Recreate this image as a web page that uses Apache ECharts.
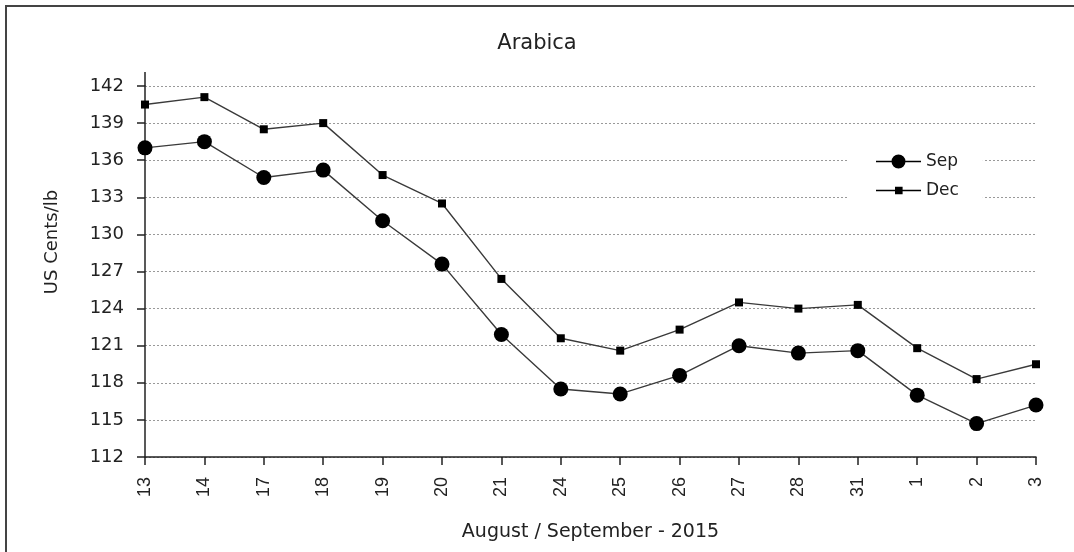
<!DOCTYPE html>
<html>
<head>
<meta charset="utf-8">
<script src="https://cdn.jsdelivr.net/npm/echarts@6/dist/echarts.min.js"></script>
<style>
  html, body { margin: 0; padding: 0; background: #fff; }
  #chart { width: 1074px; height: 552px; }
</style>
</head>
<body>
<div id="chart"></div>
<script>
// trading days, Aug/Sep 2015
const days = ["13", "14", "17", "18", "19", "20", "21", "24", "25", "26", "27", "28", "31", "1", "2", "3"];
const sep = [137.0, 137.5, 134.6, 135.2, 131.1, 127.6, 121.9, 117.5, 117.1, 118.6, 121.0, 120.4, 120.6, 117.0, 114.7, 116.2];
const dec = [140.5, 141.1, 138.5, 139.0, 134.8, 132.5, 126.4, 121.6, 120.6, 122.3, 124.5, 124.0, 124.3, 120.8, 118.3, 119.5];

const font = "DejaVu Sans, Verdana, sans-serif";
const narrow = "Liberation Sans, Arial, sans-serif";

// legend icons: line + marker (default line icon uses same marker size for both)
const iconSep = "path://M0,0 Z M0,6.3 H45 V7.7 H0 Z M15.5,7 A7,7 0 1 1 29.5,7 A7,7 0 1 1 15.5,7 Z M45,14 Z";
const iconDec = "path://M0,0 Z M0,6.3 H45 V7.7 H0 Z M19,3.2 H26.6 V10.8 H19 Z M45,14 Z";

const chart = echarts.init(document.getElementById("chart"));
chart.setOption({
  animation: false,
  backgroundColor: "#fff",
  title: {
    text: "Arabica",
    left: "center",
    top: 28,
    textStyle: { fontFamily: font, fontSize: 21, fontWeight: "normal", color: "#222" }
  },
  grid: { left: 145, right: 38, top: 86, bottom: 95 },
  legend: {
    left: 848,
    top: 153,
    orient: "vertical",
    itemWidth: 45,
    itemHeight: 14,
    itemGap: 12,
    padding: [0, 24, 0, 28],
    backgroundColor: "#fff",
    textStyle: { fontFamily: font, fontSize: 17, color: "#222" },
    data: [
      { name: "Sep", icon: iconSep },
      { name: "Dec", icon: iconDec }
    ]
  },
  xAxis: {
    type: "category",
    data: days,
    boundaryGap: false,
    name: "August / September - 2015",
    nameLocation: "middle",
    nameGap: 66,
    nameTextStyle: { fontFamily: font, fontSize: 19, color: "#222" },
    axisLine: { lineStyle: { color: "#222", width: 1.5 } },
    axisTick: { length: 8, lineStyle: { color: "#222", width: 1.5 } },
    axisLabel: { rotate: 90, margin: 20, fontFamily: narrow, fontSize: 18, color: "#222" },
    splitLine: { show: false }
  },
  yAxis: {
    type: "value",
    min: 112,
    max: 142,
    interval: 3,
    axisLine: { show: true, lineStyle: { color: "#222", width: 1.5 } },
    axisTick: { show: true, length: 8, lineStyle: { color: "#222", width: 1.5 } },
    axisLabel: { margin: 21, fontFamily: font, fontSize: 18, color: "#222" },
    splitLine: { lineStyle: { color: "#999", type: [2, 2], width: 1 } }
  },
  graphic: [
    { type: "rect", shape: { x: 6, y: 6, width: 1200, height: 700 }, style: { fill: null, stroke: "#444", lineWidth: 2 }, silent: true },
    { type: "line", shape: { x1: 145, y1: 72, x2: 145, y2: 86 }, style: { stroke: "#222", lineWidth: 1.5 }, silent: true },
    {
      type: "text", x: 52, y: 242, rotation: Math.PI / 2, silent: true,
      style: { text: "US Cents/lb", font: "18px " + font, fill: "#222", align: "center", verticalAlign: "middle" }
    }
  ],
  series: [
    {
      name: "Sep",
      type: "line",
      data: sep,
      symbol: "circle",
      symbolSize: 15,
      itemStyle: { color: "#000" },
      lineStyle: { color: "#3a3a3a", width: 1.4 },
      z: 3
    },
    {
      name: "Dec",
      type: "line",
      data: dec,
      symbol: "rect",
      symbolSize: 8,
      itemStyle: { color: "#000" },
      lineStyle: { color: "#3a3a3a", width: 1.4 },
      z: 3
    }
  ]
});
</script>
</body>
</html>
